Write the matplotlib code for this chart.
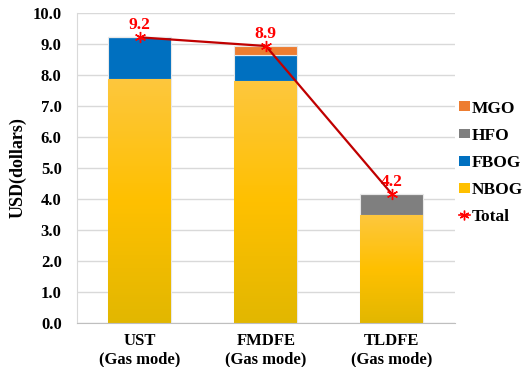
import numpy as np
import matplotlib
matplotlib.use("Agg")
import matplotlib.pyplot as plt
from matplotlib.colors import LinearSegmentedColormap
from matplotlib.patches import Patch
from matplotlib.lines import Line2D

categories = ["UST\n(Gas mode)", "FMDFE\n(Gas mode)", "TLDFE\n(Gas mode)"]
nbog = [7.87, 7.80, 3.48]
fbog = [1.34, 0.85, 0.00]
hfo = [0.00, 0.00, 0.68]
mgo = [0.00, 0.28, 0.00]
totals = [a + b + c + d for a, b, c, d in zip(nbog, fbog, hfo, mgo)]

yticks = np.arange(0, 10.01, 1.0)

plt.rcParams["font.family"] = ["Liberation Serif", "DejaVu Serif"]
plt.rcParams["font.weight"] = "bold"

fig = plt.figure(figsize=(5.27, 3.67), dpi=100)
ax = fig.add_axes([0.146, 0.12, 0.717, 0.845])

x = np.arange(len(categories))
width = 0.5
edge = "#E8E8E8"

# NBOG segments with a vertical golden gradient
nbog_bars = ax.bar(x, nbog, width, color="#FFC000", edgecolor=edge, linewidth=0.8, zorder=2)
grad = LinearSegmentedColormap.from_list("gold", ["#E2B700", "#FFC000", "#FDC73E"])
for bar in nbog_bars:
    x0, y0 = bar.get_x(), bar.get_y()
    w, h = bar.get_width(), bar.get_height()
    img = ax.imshow(np.linspace(0, 1, 256).reshape(-1, 1), cmap=grad, origin="lower",
                    extent=[x0, x0 + w, y0, y0 + h], aspect="auto", zorder=2.1)
    img.set_clip_path(bar)

bottom = np.array(nbog)
ax.bar(x, fbog, width, bottom=bottom, color="#0070C0", edgecolor=edge, linewidth=0.8, zorder=2)
bottom = bottom + np.array(fbog)
ax.bar(x, hfo, width, bottom=bottom, color="#7F7F7F", edgecolor=edge, linewidth=0.8, zorder=2)
bottom = bottom + np.array(hfo)
ax.bar(x, mgo, width, bottom=bottom, color="#ED7D31", edgecolor=edge, linewidth=0.8, zorder=2)

star = (6, 2, 0)
ax.plot(x, totals, color="#C00000", linewidth=1.6, marker=star, markersize=8,
        markeredgecolor="#FF0000", markeredgewidth=1.0, zorder=4)
for xi, t in zip(x, totals):
    ax.annotate(f"{t:.1f}", (xi, t), xytext=(0, 3), textcoords="offset points",
                ha="center", va="bottom", color="#FF0000", fontsize=12.5, fontweight="bold")

ax.set_xlim(-0.5, 2.5)
ax.set_ylim(0, 10)
ax.set_yticks(yticks)
ax.set_yticklabels([f"{v:.1f}" for v in yticks], fontsize=12, fontweight="bold")
ax.set_xticks(x)
ax.set_xticklabels(categories, fontsize=12, fontweight="bold", linespacing=1.2)
ax.tick_params(axis="x", length=0, pad=7)
ax.tick_params(axis="y", length=0, pad=11)
ax.yaxis.grid(True, color="#D9D9D9", linewidth=1.0, zorder=0)
ax.set_axisbelow(True)
for s in ["top", "right"]:
    ax.spines[s].set_visible(False)
ax.spines["left"].set_color("#D9D9D9")
ax.spines["bottom"].set_color("#BFBFBF")
ax.set_ylabel("USD(dollars)", fontsize=13, fontweight="bold", labelpad=4)

handles = [
    Patch(facecolor="#ED7D31", label="MGO"),
    Patch(facecolor="#7F7F7F", label="HFO"),
    Patch(facecolor="#0070C0", label="FBOG"),
    Patch(facecolor="#FFC000", label="NBOG"),
    Line2D([], [], color="#FF0000", marker=star, markersize=7, linewidth=1.2,
           markeredgecolor="#FF0000", label="Total"),
]
leg = fig.legend(handles=handles, loc="upper left", bbox_to_anchor=(0.858, 0.745),
                 frameon=False, fontsize=12.5, handlelength=0.6, handleheight=0.5,
                 handletextpad=0.15, labelspacing=0.64, borderaxespad=0)
for t in leg.get_texts():
    t.set_fontweight("bold")

fig.savefig("out.png", dpi=100)
